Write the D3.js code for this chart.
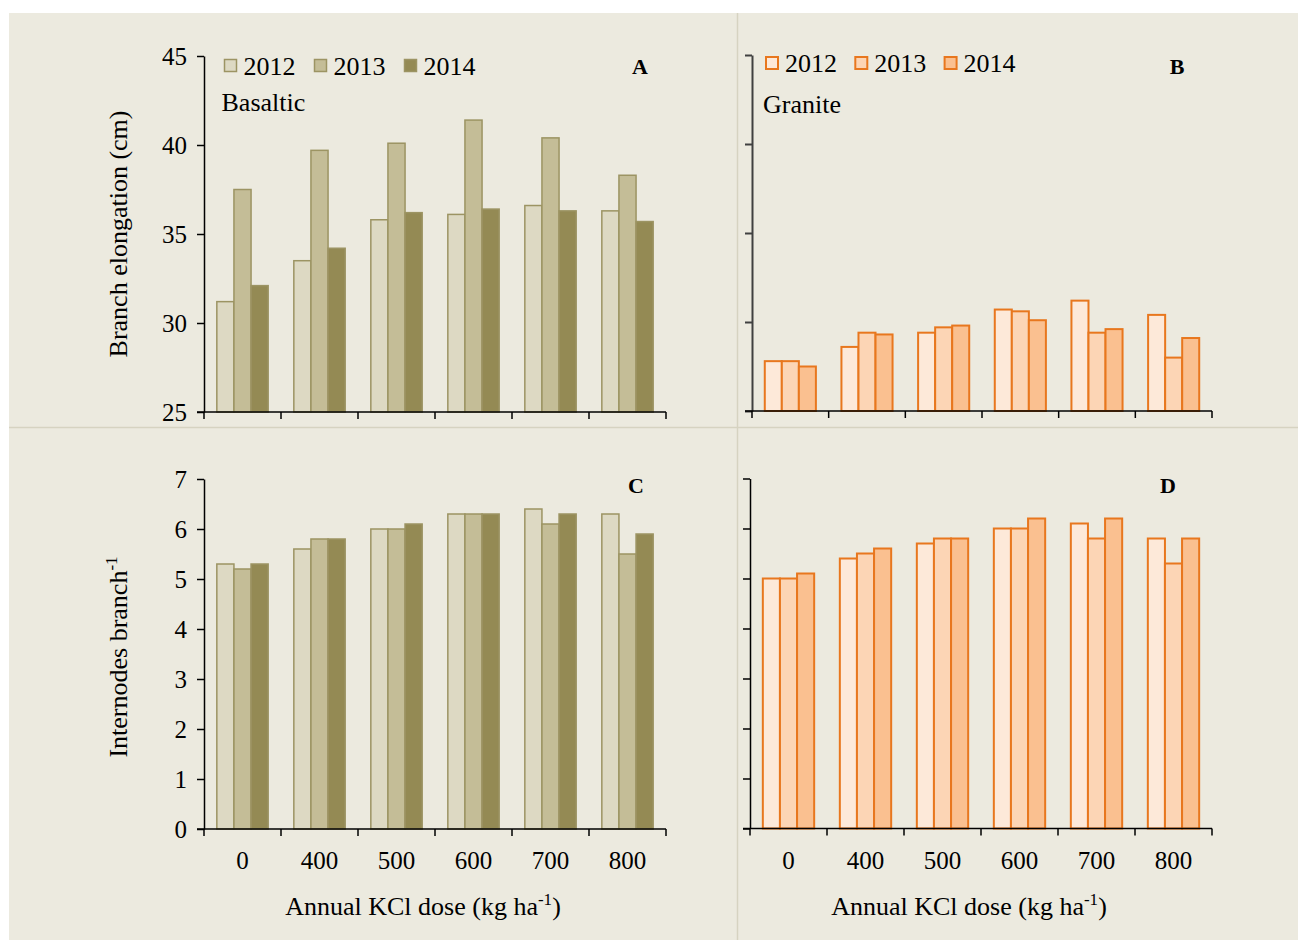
<!DOCTYPE html>
<html>
<head>
<meta charset="utf-8">
<script src="https://cdn.jsdelivr.net/npm/d3@7.9.0/dist/d3.min.js"></script>
<style>
  body { margin: 0; background: #fff; }
  svg { display: block; font-family: "Liberation Serif", "Times New Roman", serif; }
</style>
</head>
<body>
<svg id="chart" width="1298" height="940"></svg>
<script>
// doses and years
const doses = ["0", "400", "500", "600", "700", "800"];
const years = ["2012", "2013", "2014"];

// branch elongation (cm)
const elongBasalt2012 = [31.2, 33.5, 35.8, 36.1, 36.6, 36.3];
const elongBasalt2013 = [37.5, 39.7, 40.1, 41.4, 40.4, 38.3];
const elongBasalt2014 = [32.1, 34.2, 36.2, 36.4, 36.3, 35.7];
const elongGranite2012 = [27.8, 28.6, 29.4, 30.7, 31.2, 30.4];
const elongGranite2013 = [27.8, 29.4, 29.7, 30.6, 29.4, 28.0];
const elongGranite2014 = [27.5, 29.3, 29.8, 30.1, 29.6, 29.1];

// internodes per branch
const nodesBasalt2012 = [5.3, 5.6, 6.0, 6.3, 6.4, 6.3];
const nodesBasalt2013 = [5.2, 5.8, 6.0, 6.3, 6.1, 5.5];
const nodesBasalt2014 = [5.3, 5.8, 6.1, 6.3, 6.3, 5.9];
const nodesGranite2012 = [5.0, 5.4, 5.7, 6.0, 6.1, 5.8];
const nodesGranite2013 = [5.0, 5.5, 5.8, 6.0, 5.8, 5.3];
const nodesGranite2014 = [5.1, 5.6, 5.8, 6.2, 6.2, 5.8];

const elongTicks = [25, 30, 35, 40, 45];
const nodesTicks = [0, 1, 2, 3, 4, 5, 6, 7];

const olive = { fills: ["#ddd9c3", "#c4bd97", "#948a54"], stroke: "#9c9463", sw: 1.5 };
const orange = { fills: ["#fde9d9", "#fcd5b5", "#fac090"], stroke: "#e8771e", sw: 2 };

const svg = d3.select("#chart");

// background + panel separators
svg.append("rect").attr("x", 9).attr("y", 13).attr("width", 1289).attr("height", 927).attr("fill", "#eceadf");
svg.append("line").attr("x1", 737.5).attr("x2", 737.5).attr("y1", 13).attr("y2", 940).attr("stroke", "#d6d3c1").attr("stroke-width", 1.5);
svg.append("line").attr("x1", 9).attr("x2", 1298).attr("y1", 427.5).attr("y2", 427.5).attr("stroke", "#d6d3c1").attr("stroke-width", 1.5);

function panel(opt) {
  const g = svg.append("g");
  const x = d3.scaleBand().domain(doses).range([opt.x0, opt.x1]);
  const bw = x.bandwidth();
  const xi = d3.scaleBand().domain(years).range([bw / 6, bw * 5 / 6]);
  const y = d3.scaleLinear().domain(opt.domain).range([opt.y1, opt.y0]);

  // bars
  const rows = [];
  opt.series.forEach((vals, si) => vals.forEach((v, i) => rows.push({ dose: doses[i], year: years[si], si, v })));
  g.selectAll("rect.bar").data(rows).enter().append("rect")
    .attr("class", "bar")
    .attr("x", d => x(d.dose) + xi(d.year))
    .attr("width", xi.bandwidth())
    .attr("y", d => y(d.v))
    .attr("height", d => y(opt.domain[0]) - y(d.v))
    .attr("fill", d => opt.style.fills[d.si])
    .attr("stroke", opt.style.stroke)
    .attr("stroke-width", opt.style.sw);

  // y axis
  const ya = g.append("g").attr("transform", `translate(${opt.x0},0)`)
    .call(d3.axisLeft(y).tickValues(opt.ticks).tickSize(7).tickSizeOuter(0).tickPadding(10)
      .tickFormat(opt.yLabels ? d3.format("d") : ""));
  ya.attr("font-family", null).attr("font-size", null);
  ya.select(".domain").attr("stroke", opt.axisColor).attr("stroke-width", opt.axisW);
  ya.selectAll(".tick line").attr("stroke", opt.axisColor).attr("stroke-width", opt.axisW);
  ya.selectAll(".tick text").attr("font-size", 25).attr("fill", "#000");

  // x axis
  const yb = y(opt.domain[0]);
  g.append("line").attr("x1", opt.x0 - 7).attr("x2", opt.x1).attr("y1", yb).attr("y2", yb)
    .attr("stroke", "#000").attr("stroke-width", 1.5);
  const bounds = doses.map(d => x(d)).concat([opt.x1]);
  g.selectAll("line.xt").data(bounds).enter().append("line")
    .attr("x1", d => d).attr("x2", d => d).attr("y1", yb).attr("y2", yb + 7)
    .attr("stroke", "#000").attr("stroke-width", 1.5);

  if (opt.xLabels) {
    g.selectAll("text.xl").data(doses).enter().append("text")
      .attr("x", d => x(d) + bw / 2).attr("y", 869)
      .attr("text-anchor", "middle").attr("font-size", 25).text(d => d);
    const t = g.append("text").attr("x", (opt.x0 + opt.x1) / 2 - 12).attr("y", 915)
      .attr("text-anchor", "middle").attr("font-size", 26);
    t.append("tspan").text("Annual KCl dose (kg ha");
    t.append("tspan").attr("font-size", 17).attr("dy", -10).text("-1");
    t.append("tspan").attr("dy", 10).text(")");
  }

  // panel letter
  g.append("text").attr("x", opt.letterX).attr("y", opt.letterY).attr("text-anchor", "middle")
    .attr("font-size", 22).attr("font-weight", "bold").text(opt.letter);

  // legend
  if (opt.legend) {
    years.forEach((yr, i) => {
      const lx = opt.legend.x + i * opt.legend.step;
      g.append("rect").attr("x", lx).attr("y", opt.legend.y).attr("width", 12).attr("height", 12)
        .attr("fill", opt.style.fills[i]).attr("stroke", opt.style.stroke).attr("stroke-width", opt.style.sw);
      g.append("text").attr("x", lx + 19).attr("y", opt.legend.y + 15).attr("font-size", 26).text(yr);
    });
    g.append("text").attr("x", opt.legend.x - 3).attr("y", opt.legend.soilY).attr("font-size", 26).text(opt.legend.soil);
  }
}

panel({
  x0: 204, x1: 666, y0: 56, y1: 412, domain: [25, 45], ticks: elongTicks,
  series: [elongBasalt2012, elongBasalt2013, elongBasalt2014], style: olive,
  yLabels: true, xLabels: false, axisColor: "#000", axisW: 1.5,
  letter: "A", letterX: 640, letterY: 74,
  legend: { x: 224.5, y: 59.5, step: 90, soil: "Basaltic", soilY: 111 }
});
panel({
  x0: 752, x1: 1212, y0: 55, y1: 411, domain: [25, 45], ticks: elongTicks,
  series: [elongGranite2012, elongGranite2013, elongGranite2014], style: orange,
  yLabels: false, xLabels: false, axisColor: "#404040", axisW: 2,
  letter: "B", letterX: 1177, letterY: 74,
  legend: { x: 766, y: 57, step: 89.3, soil: "Granite", soilY: 113 }
});
panel({
  x0: 204, x1: 666, y0: 479, y1: 829, domain: [0, 7], ticks: nodesTicks,
  series: [nodesBasalt2012, nodesBasalt2013, nodesBasalt2014], style: olive,
  yLabels: true, xLabels: true, axisColor: "#000", axisW: 1.5,
  letter: "C", letterX: 636, letterY: 493
});
panel({
  x0: 750, x1: 1212, y0: 478.5, y1: 828.5, domain: [0, 7], ticks: nodesTicks,
  series: [nodesGranite2012, nodesGranite2013, nodesGranite2014], style: orange,
  yLabels: false, xLabels: true, axisColor: "#000", axisW: 1.5,
  letter: "D", letterX: 1168, letterY: 493
});

// y titles
svg.append("text").attr("transform", "translate(127,234) rotate(-90)").attr("text-anchor", "middle")
  .attr("font-size", 26).text("Branch elongation (cm)");
const yt = svg.append("text").attr("transform", "translate(127,657) rotate(-90)").attr("text-anchor", "middle")
  .attr("font-size", 26);
yt.append("tspan").text("Internodes branch");
yt.append("tspan").attr("font-size", 17).attr("dy", -10).text("-1");
</script>
</body>
</html>
